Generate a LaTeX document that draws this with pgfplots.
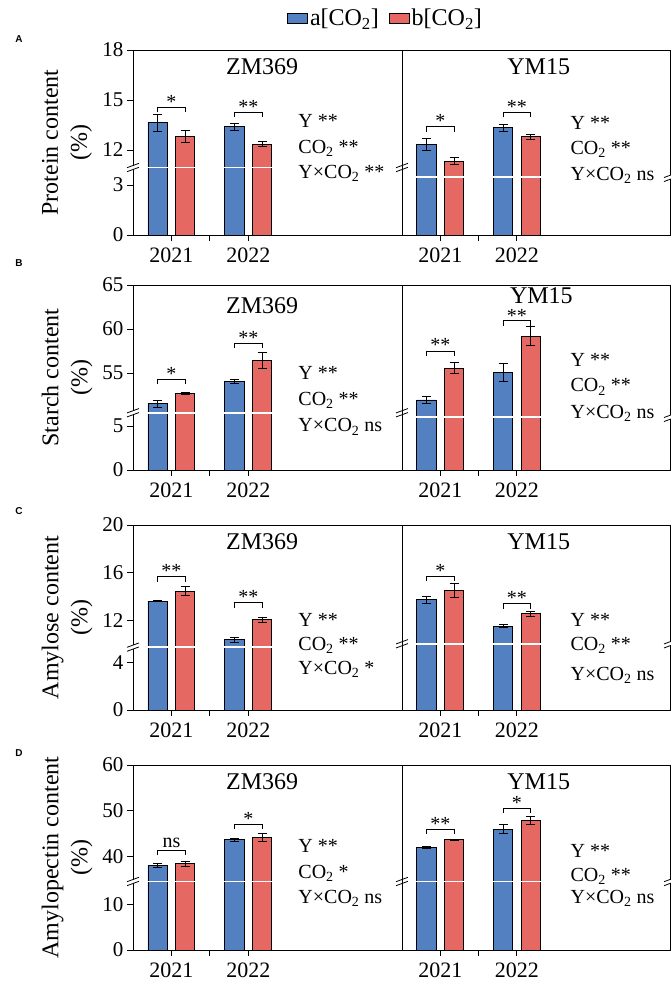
\documentclass[border=0pt]{standalone}
\usepackage{fontspec}
\setmainfont{Liberation Serif}
\setsansfont{Liberation Sans}
\usepackage{pgfplots}
\pgfplotsset{compat=1.18}
\usepackage{pgfplotstable}
\definecolor{cblue}{RGB}{82,128,193}
\definecolor{cred}{RGB}{229,104,98}
\newcommand{\fs}[1]{\fontsize{#1}{#1}\selectfont}

% columns: x = year position, a = ambient [CO2], b = elevated [CO2], ae/be = error
\pgfplotstableread{
x a ae b be
1 13.64 0.52 12.80 0.37
3 13.40 0.20 12.36 0.13
}\TAl
\pgfplotstableread{
x a ae b be
1 12.34 0.37 11.34 0.22
3 13.34 0.20 12.80 0.15
}\TAr
\pgfplotstableread{
x a ae b be
1 51.53 0.42 52.71 0.08
3 54.00 0.23 56.41 0.92
}\TBl
\pgfplotstableread{
x a ae b be
1 51.95 0.38 55.57 0.63
3 55.08 1.00 59.20 1.10
}\TBr
\pgfplotstableread{
x a ae b be
1 13.63 0.06 14.47 0.39
3 10.37 0.22 12.06 0.22
}\TCl
\pgfplotstableread{
x a ae b be
1 13.74 0.28 14.53 0.56
3 11.52 0.11 12.56 0.20
}\TCr
\pgfplotstableread{
x a ae b be
1 38.04 0.36 38.40 0.58
3 43.64 0.36 44.20 0.87
}\TDl
\pgfplotstableread{
x a ae b be
1 41.90 0.22 43.64 0.05
3 45.96 0.98 47.85 0.95
}\TDr

\pgfplotsset{
  panel/.style={scale only axis, height=185pt, xmin=0, xmax=7, ymin=0, clip=false,
    axis line style={line width=0.9pt},
    tick style={line width=0.9pt, black},
    tick align=outside, major tick length=6pt,
    xtick={1,2,3}, xticklabels={2021,,2022}, xtick pos=left, ytick pos=left,
    x tick label style={font=\fs{22}, yshift=-3pt},
    y tick label style={font=\fs{21}},
    /pgf/number format/assume math mode=true},
  leftp/.style={panel, width=269pt},
  rightp/.style={panel, width=268pt, ytick=\empty},
  barbase/.style={ybar, bar width=0.5, bar shift=0pt, draw=black, line width=0.9pt,
    error bars/y dir=both, error bars/y explicit,
    error bars/error bar style={line width=0.9pt, black},
    error bars/error mark options={rotate=90, mark size=4.5pt, line width=0.9pt, black}},
  bluebar/.style={fill=cblue, barbase},
  redbar/.style={fill=cred, barbase},
}
% bracket: x1, x2, y, label, label yshift
\newcommand{\brk}[5]{%
  \draw[line width=0.9pt] ([yshift=-5pt]axis cs:#1,#3) -- (axis cs:#1,#3) -- (axis cs:#2,#3) -- ([yshift=-5pt]axis cs:#2,#3);
  \node[anchor=base, font=\fs{20}, inner sep=0pt, yshift=#5] at (axis cs:{#1/2+#2/2},#3) {#4};}
% break mark on an axis line
\newcommand{\bmark}[2]{%
  \fill[white] ([xshift=-1.6pt,yshift=-1.9pt]axis cs:#1,#2) rectangle ([xshift=1.6pt,yshift=1.9pt]axis cs:#1,#2);
  \draw[line width=0.8pt] ([xshift=-6pt,yshift=-4.2pt]axis cs:#1,#2) -- ([xshift=6pt,yshift=0.2pt]axis cs:#1,#2);
  \draw[line width=0.8pt] ([xshift=-6pt,yshift=-0.2pt]axis cs:#1,#2) -- ([xshift=6pt,yshift=4.2pt]axis cs:#1,#2);}
% white break line across the bars of both years
\newcommand{\wl}[1]{%
  \draw[white, line width=1.8pt] (axis cs:0.37,#1) -- (axis cs:1.63,#1);
  \draw[white, line width=1.8pt] (axis cs:2.37,#1) -- (axis cs:3.63,#1);}
% annotation block
\newcommand{\ann}[7]{%
  \node[anchor=base west, font=\fs{20}, inner sep=0pt, yshift=-7pt] at (axis cs:#1,#2) {Y **};
  \node[anchor=base west, font=\fs{20}, inner sep=0pt, yshift=-7pt] at (axis cs:#1,#3) {CO\textsubscript{2} #6};
  \node[anchor=base west, font=\fs{20}, inner sep=0pt, yshift=-7pt] at (axis cs:#1,#4) {Y×CO\textsubscript{2} #7};}

\begin{document}
\begin{tikzpicture}
\useasboundingbox (0,0) rectangle (671pt,-982pt);

% ================= A =================
\begin{axis}[leftp, at={(133pt,-50pt)}, anchor=north west, ymax=11.1,
  ytick={0,3,5.1,8.1,11.1}, yticklabels={0,3,12,15,18},
  legend style={at={(0.5725,1)}, anchor=west, yshift=32pt, draw=none, fill=none,
    legend columns=2, font=\fs{24}, inner sep=0pt,
    /tikz/every even column/.append style={column sep=8pt}},
  legend cell align=left]
\addlegendimage{legend image code/.code={\draw[fill=cblue,draw=black,line width=0.8pt] (0pt,-5pt) rectangle (20pt,5pt);}}
\addlegendentry{a[CO\textsubscript{2}]}
\addlegendimage{legend image code/.code={\draw[fill=cred,draw=black,line width=0.8pt] (0pt,-5pt) rectangle (20pt,5pt);}}
\addlegendentry{b[CO\textsubscript{2}]}
\addplot[forget plot, bluebar] table[x expr=\thisrow{x}-0.36, y expr=\thisrow{a}-6.9, y error=ae]{\TAl};
\addplot[forget plot, redbar] table[x expr=\thisrow{x}+0.36, y expr=\thisrow{b}-6.9, y error=be]{\TAl};
\wl{4.05}
\bmark{0}{4.05}\bmark{7}{4.05}
\brk{0.64}{1.36}{7.66}{*}{-1pt}
\brk{2.64}{3.36}{7.36}{**}{-1pt}
\node[font=\fs{24}, anchor=base, yshift=-24pt] at (rel axis cs:0.48,1) {ZM369};
\ann{4.3}{6.86}{5.33}{3.84}{**}{**}{**}
\end{axis}
\begin{axis}[rightp, at={(402pt,-50pt)}, anchor=north west, ymax=11.1]
\addplot[bluebar] table[x expr=\thisrow{x}-0.36, y expr=\thisrow{a}-6.9, y error=ae]{\TAr};
\addplot[redbar] table[x expr=\thisrow{x}+0.36, y expr=\thisrow{b}-6.9, y error=be]{\TAr};
\wl{3.46}
\bmark{7}{3.46}
\brk{0.64}{1.36}{6.49}{*}{-1pt}
\brk{2.64}{3.36}{7.36}{**}{-1pt}
\node[font=\fs{24}, anchor=base, yshift=-24pt] at (rel axis cs:0.51,1) {YM15};
\ann{4.4}{6.75}{5.27}{3.72}{**}{**}{ns}
\end{axis}

% ================= B =================
\begin{axis}[leftp, at={(133pt,-285pt)}, anchor=north west, ymax=21,
  ytick={0,5,11,16,21}, yticklabels={0,5,55,60,65}]
\addplot[bluebar] table[x expr=\thisrow{x}-0.36, y expr=\thisrow{a}-44, y error=ae]{\TBl};
\addplot[redbar] table[x expr=\thisrow{x}+0.36, y expr=\thisrow{b}-44, y error=be]{\TBl};
\wl{6.5}
\bmark{0}{6.5}\bmark{7}{6.5}
\brk{0.64}{1.36}{10.29}{*}{-1pt}
\brk{2.64}{3.36}{14.38}{**}{-1pt}
\node[font=\fs{24}, anchor=base, yshift=-28pt] at (rel axis cs:0.48,1) {ZM369};
\ann{4.3}{11.09}{8.14}{5.11}{**}{**}{ns}
\end{axis}
\begin{axis}[rightp, at={(402pt,-285pt)}, anchor=north west, ymax=21]
\addplot[bluebar] table[x expr=\thisrow{x}-0.36, y expr=\thisrow{a}-44, y error=ae]{\TBr};
\addplot[redbar] table[x expr=\thisrow{x}+0.36, y expr=\thisrow{b}-44, y error=be]{\TBr};
\wl{5.98}
\bmark{7}{5.98}
\brk{0.64}{1.36}{13.51}{**}{-1pt}
\brk{2.64}{3.36}{16.95}{**}{-1.5pt}
\node[font=\fs{24}, anchor=base, yshift=-18pt] at (rel axis cs:0.52,1) {YM15};
\ann{4.4}{12.56}{9.65}{6.62}{**}{**}{ns}
\end{axis}

% ================= C =================
\begin{axis}[leftp, at={(133pt,-525pt)}, anchor=north west, ymax=15.5,
  ytick={0,4,7.5,11.5,15.5}, yticklabels={0,4,12,16,20}]
\addplot[bluebar] table[x expr=\thisrow{x}-0.36, y expr=\thisrow{a}-4.5, y error=ae]{\TCl};
\addplot[redbar] table[x expr=\thisrow{x}+0.36, y expr=\thisrow{b}-4.5, y error=be]{\TCl};
\wl{5.27}
\bmark{0}{5.27}\bmark{7}{5.55}
\brk{0.64}{1.36}{11.16}{**}{-1pt}
\brk{2.64}{3.36}{8.97}{**}{-1pt}
\node[font=\fs{24}, anchor=base, yshift=-24pt] at (rel axis cs:0.48,1) {ZM369};
\ann{4.3}{7.57}{5.61}{3.53}{**}{**}{*}
\end{axis}
\begin{axis}[rightp, at={(402pt,-525pt)}, anchor=north west, ymax=15.5]
\addplot[bluebar] table[x expr=\thisrow{x}-0.36, y expr=\thisrow{a}-4.5, y error=ae]{\TCr};
\addplot[redbar] table[x expr=\thisrow{x}+0.36, y expr=\thisrow{b}-4.5, y error=be]{\TCr};
\wl{5.55}
\bmark{7}{5.55}
\brk{0.64}{1.36}{11.21}{*}{-1pt}
\brk{2.64}{3.36}{8.91}{**}{-1pt}
\node[font=\fs{24}, anchor=base, yshift=-24pt] at (rel axis cs:0.51,1) {YM15};
\ann{4.4}{7.57}{5.55}{3.08}{**}{**}{ns}
\end{axis}

% ================= D =================
\begin{axis}[leftp, at={(133pt,-765pt)}, anchor=north west, ymax=40.5,
  ytick={0,10,20.5,30.5,40.5}, yticklabels={0,10,40,50,60}]
\addplot[bluebar] table[x expr=\thisrow{x}-0.36, y expr=\thisrow{a}-19.5, y error=ae]{\TDl};
\addplot[redbar] table[x expr=\thisrow{x}+0.36, y expr=\thisrow{b}-19.5, y error=be]{\TDl};
\wl{15.0}
\bmark{0}{15.0}\bmark{7}{15.0}
\brk{0.64}{1.36}{21.88}{ns}{3pt}
\brk{2.64}{3.36}{27.53}{*}{-1pt}
\node[font=\fs{24}, anchor=base, yshift=-24pt] at (rel axis cs:0.48,1) {ZM369};
\ann{4.3}{22.97}{17.17}{11.74}{**}{*}{ns}
\end{axis}
\begin{axis}[rightp, at={(402pt,-765pt)}, anchor=north west, ymax=40.5]
\addplot[bluebar] table[x expr=\thisrow{x}-0.36, y expr=\thisrow{a}-19.5, y error=ae]{\TDr};
\addplot[redbar] table[x expr=\thisrow{x}+0.36, y expr=\thisrow{b}-19.5, y error=be]{\TDr};
\wl{15.0}
\bmark{7}{15.0}
\brk{0.64}{1.36}{26.44}{**}{-1pt}
\brk{2.64}{3.36}{31.08}{*}{-1pt}
\node[font=\fs{24}, anchor=base, yshift=-24pt] at (rel axis cs:0.51,1) {YM15};
\ann{4.4}{21.88}{16.59}{11.74}{**}{**}{ns}
\end{axis}

% y labels and panel letters
\node[rotate=90, align=center, font=\fontsize{24}{29}\selectfont] at (67pt,-142.5pt) {Protein content\\(\%)};
\node[rotate=90, align=center, font=\fontsize{24}{29}\selectfont] at (67pt,-377.5pt) {Starch content\\(\%)};
\node[rotate=90, align=center, font=\fontsize{24}{29}\selectfont] at (67pt,-617.5pt) {Amylose content\\(\%)};
\node[rotate=90, align=center, font=\fontsize{24}{29}\selectfont] at (67pt,-857.5pt) {Amylopectin content\\(\%)};
\node[font=\sffamily\bfseries\fs{10}] at (19pt,-39pt) {A};
\node[font=\sffamily\bfseries\fs{10}] at (19pt,-263pt) {B};
\node[font=\sffamily\bfseries\fs{10}] at (19pt,-511pt) {C};
\node[font=\sffamily\bfseries\fs{10}] at (19pt,-753pt) {D};
\end{tikzpicture}
\end{document}
